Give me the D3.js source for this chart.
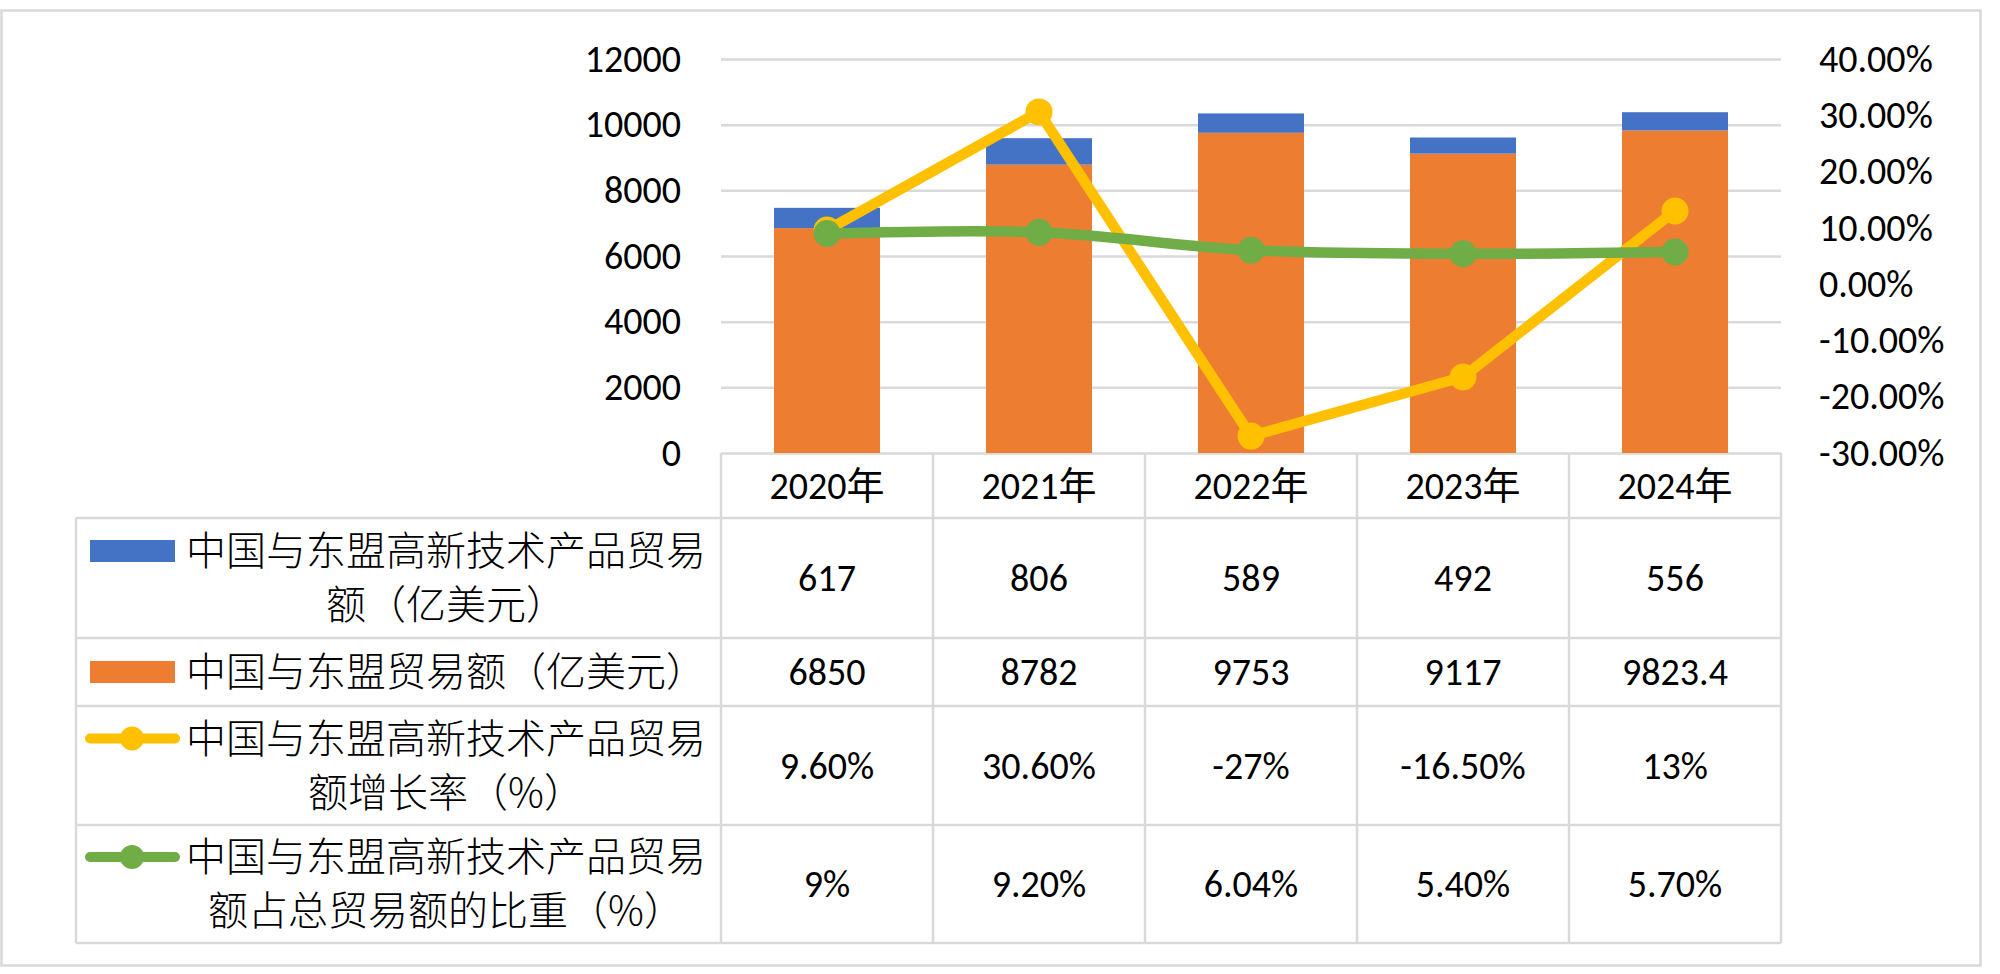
<!DOCTYPE html>
<html>
<head>
<meta charset="utf-8">
<script src="https://cdn.jsdelivr.net/npm/d3@7"></script>
<style>
  html, body { margin: 0; padding: 0; background: #fff; }
  svg { display: block; }
  text { fill: #000; }
  .num { font-family: Carlito, Calibri, Lato, "Noto Sans CJK SC", sans-serif; font-size: 38px; }
  .cjk { font-family: "Noto Sans CJK SC", sans-serif; font-size: 40px; font-weight: 300; }
</style>
</head>
<body>
<script>
// data
const years = ['2020年', '2021年', '2022年', '2023年', '2024年'];
const hiTech = [617, 806, 589, 492, 556];           // 高新技术产品贸易额
const trade = [6850, 8782, 9753, 9117, 9823.4];      // 贸易额
const growth = [9.6, 30.6, -27, -16.5, 13];          // 增长率 %
const share = [9, 9.2, 6.04, 5.4, 5.7];              // 比重 %

const hiTechLabels = ['617', '806', '589', '492', '556'];
const tradeLabels = ['6850', '8782', '9753', '9117', '9823.4'];
const growthLabels = ['9.60%', '30.60%', '-27%', '-16.50%', '13%'];
const shareLabels = ['9%', '9.20%', '6.04%', '5.40%', '5.70%'];

const leftTicks = [0, 2000, 4000, 6000, 8000, 10000, 12000];
const rightTicks = [-30, -20, -10, 0, 10, 20, 30, 40];

const legendRows = [
  { lines: ['中国与东盟高新技术产品贸易', '额（亿美元）'], type: 'bar', color: '#4472C4', labels: hiTechLabels },
  { lines: ['中国与东盟贸易额（亿美元）'], type: 'bar', color: '#ED7D31', labels: tradeLabels },
  { lines: ['中国与东盟高新技术产品贸易', '额增长率（%）'], type: 'line', color: '#FFC000', labels: growthLabels },
  { lines: ['中国与东盟高新技术产品贸易', '额占总贸易额的比重（%）'], type: 'line', color: '#70AD47', labels: shareLabels }
];

const width = 2000, height = 974;
const grid = '#d9d9d9';

const svg = d3.select('body').append('svg').attr('width', width).attr('height', height);

// outer frame
svg.append('rect').attr('x', 1.5).attr('y', 10.5).attr('width', 1979).attr('height', 955)
  .attr('fill', 'none').attr('stroke', grid).attr('stroke-width', 2.5);

const plotL = 721, plotR = 1781, plotT = 59, plotB = 453;

const x = d3.scaleBand().domain(years).range([plotL, plotR]).paddingInner(0.5).paddingOuter(0.25);
const step = x.step();
const yL = d3.scaleLinear().domain([0, 12000]).range([plotB, plotT]);
const yR = d3.scaleLinear().domain([-30, 40]).range([plotB, plotT]);

// gridlines
svg.append('g').attr('transform', `translate(${plotL},0)`)
  .call(d3.axisLeft(yL).tickValues(leftTicks).tickSize(-(plotR - plotL)).tickFormat(''))
  .call(g => g.select('.domain').remove())
  .call(g => g.selectAll('line').attr('stroke', grid).attr('stroke-width', 2.5));

// axes
svg.append('g').attr('transform', `translate(${plotL},0)`)
  .call(d3.axisLeft(yL).tickValues(leftTicks).tickSize(0).tickPadding(40).tickFormat(d3.format('d')))
  .call(g => g.select('.domain').remove())
  .call(g => g.selectAll('text').attr('class', 'num').attr('fill', '#000'));

svg.append('g').attr('transform', `translate(${plotR},0)`)
  .call(d3.axisRight(yR).tickValues(rightTicks).tickSize(0).tickPadding(38).tickFormat(d => d.toFixed(2) + '%'))
  .call(g => g.select('.domain').remove())
  .call(g => g.selectAll('text').attr('class', 'num').attr('fill', '#000'));

// stacked bars
const stackData = years.map((y, i) => ({ year: y, trade: trade[i], hiTech: hiTech[i] }));
const series = d3.stack().keys(['trade', 'hiTech'])(stackData);
const barColor = { trade: '#ED7D31', hiTech: '#4472C4' };
svg.append('g').selectAll('g').data(series).join('g')
  .attr('fill', s => barColor[s.key])
  .selectAll('rect').data(s => s).join('rect')
  .attr('x', d => x(d.data.year))
  .attr('width', x.bandwidth())
  .attr('y', d => yL(d[1]))
  .attr('height', d => yL(d[0]) - yL(d[1]));

// lines
const cx = (d, i) => x(years[i]) + x.bandwidth() / 2;
const drawLine = (vals, color, curve) => {
  const line = d3.line().x(cx).y(d => yR(d)).curve(curve);
  svg.append('path').datum(vals).attr('d', line).attr('fill', 'none')
    .attr('stroke', color).attr('stroke-width', 10.5).attr('stroke-linejoin', 'round').attr('stroke-linecap', 'round');
  svg.append('g').selectAll('circle').data(vals).join('circle')
    .attr('cx', cx).attr('cy', d => yR(d)).attr('r', 13.5).attr('fill', color);
};
drawLine(growth, '#FFC000', d3.curveLinear);
drawLine(share, '#70AD47', d3.curveCatmullRom.alpha(0.5));

// data table
const rowEdges = [518, 638, 706, 825, 943];
const tableL = 76;
const tg = svg.append('g').attr('stroke', grid).attr('stroke-width', 2.5);
rowEdges.forEach(yy => tg.append('line').attr('x1', tableL).attr('x2', plotR).attr('y1', yy).attr('y2', yy));
tg.append('line').attr('x1', tableL).attr('x2', tableL).attr('y1', rowEdges[0]).attr('y2', rowEdges[4]);
d3.range(years.length + 1).forEach(k => {
  const xx = plotL + k * step;
  tg.append('line').attr('x1', xx).attr('x2', xx).attr('y1', plotB).attr('y2', rowEdges[4]);
});

// year header
svg.append('g').selectAll('text').data(years).join('text')
  .attr('class', 'num')
  .attr('x', d => x(d) + x.bandwidth() / 2)
  .attr('y', (plotB + rowEdges[0]) / 2)
  .attr('dy', '0.35em')
  .attr('text-anchor', 'middle')
  .text(d => d);

// rows
legendRows.forEach((row, r) => {
  const top = rowEdges[r], bot = rowEdges[r + 1];
  const mid = (top + bot) / 2;
  const lineGap = 54;
  const n = row.lines.length;
  const firstY = mid - (n - 1) * lineGap / 2;

  // values
  svg.append('g').selectAll('text').data(row.labels).join('text')
    .attr('class', 'num')
    .attr('x', (d, i) => x(years[i]) + x.bandwidth() / 2)
    .attr('y', mid).attr('dy', '0.35em').attr('text-anchor', 'middle')
    .text(d => d);

  // legend text
  row.lines.forEach((t, j) => {
    svg.append('text').attr('class', 'cjk')
      .attr('x', 446).attr('y', firstY + j * lineGap).attr('dy', '0.36em')
      .attr('text-anchor', 'middle').text(t);
  });

  // legend key
  if (row.type === 'bar') {
    svg.append('rect').attr('x', 90).attr('y', firstY - 11).attr('width', 85).attr('height', 22).attr('fill', row.color);
  } else {
    svg.append('line').attr('x1', 90).attr('x2', 175).attr('y1', firstY).attr('y2', firstY)
      .attr('stroke', row.color).attr('stroke-width', 10).attr('stroke-linecap', 'round');
    svg.append('circle').attr('cx', 132).attr('cy', firstY).attr('r', 12).attr('fill', row.color);
  }
});
</script>
</body>
</html>
